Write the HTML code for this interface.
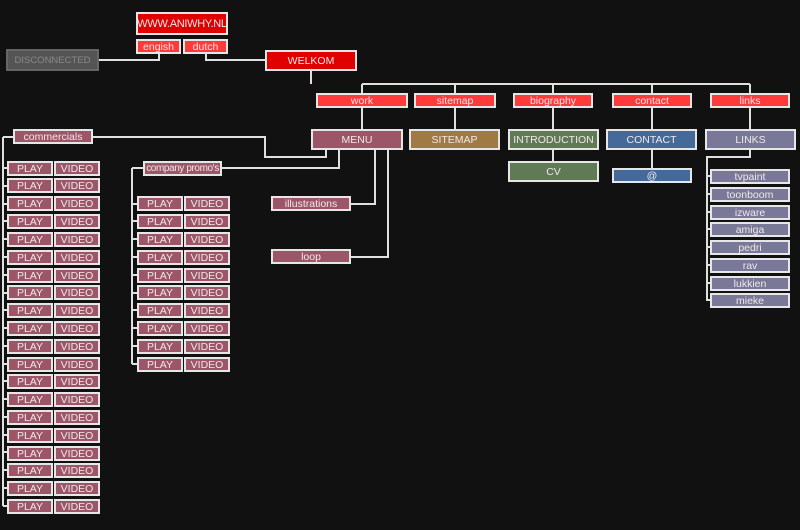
<!DOCTYPE html><html><head><meta charset="utf-8"><style>
body{margin:0;width:800px;height:530px;background:#111;overflow:hidden;position:relative;font-family:"Liberation Sans","DejaVu Sans",sans-serif}
.b{position:absolute;box-sizing:border-box;border:2px solid #e6e6e6;color:#f0e8ea;font-size:10.5px;text-align:center;display:flex;align-items:center;justify-content:center;white-space:nowrap;letter-spacing:0;overflow:hidden}
.r{background:#ff3a3a}.rd{background:#e00000}.m{background:#9c5668}.g{background:#555;border-color:#666;color:#888}
.p{width:46px;height:15px}
.l{background:#7a7898;width:80px;height:15px;left:710px}
svg{position:absolute;left:0;top:0}
</style></head><body>
<svg width="800" height="530" fill="none" stroke="#e0e0e0" stroke-width="2">
<path d="M159 54V60H99M206 54V60H265M311 71V84M362 84H750M362 84V93M455 84V93M553 84V93M652 84V93M750 84V93M362 108V129M455 108V129M553 108V129M553 150V161M652 108V129M652 150V168M750 108V129M750 150V157H707V300H711"/>
<path d="M93 137H265V157H326V150M339 150V168H222M375 150V204H351M388 150V257H351M3 137H13M3 137V506M132 168H143M132 168V364"/>
<path d="M3 168H7M3 186H7M3 204H7M3 221H7M3 239H7M3 257H7M3 275H7M3 293H7M3 310H7M3 328H7M3 346H7M3 364H7M3 381H7M3 399H7M3 417H7M3 435H7M3 452H7M3 470H7M3 488H7M3 506H7"/>
<path d="M132 204H137M132 221H137M132 239H137M132 257H137M132 275H137M132 293H137M132 310H137M132 328H137M132 346H137M132 364H137"/>
<path d="M707 176H711M707 194H711M707 212H711M707 229H711M707 247H711M707 265H711M707 283H711"/>
</svg>
<div class="b rd" style="left:136px;top:12px;width:92px;height:23px;font-size:11px;letter-spacing:-0.3px">WWW.ANIWHY.NL</div>
<div class="b r" style="left:136px;top:39px;width:45px;height:15px">engish</div>
<div class="b r" style="left:183px;top:39px;width:45px;height:15px">dutch</div>
<div class="b g" style="left:6px;top:49px;width:93px;height:22px;font-size:9.5px">DISCONNECTED</div>
<div class="b rd" style="left:265px;top:50px;width:92px;height:21px">WELKOM</div>
<div class="b r" style="left:316px;top:93px;width:92px;height:15px">work</div>
<div class="b r" style="left:414px;top:93px;width:82px;height:15px">sitemap</div>
<div class="b r" style="left:513px;top:93px;width:80px;height:15px">biography</div>
<div class="b r" style="left:612px;top:93px;width:80px;height:15px">contact</div>
<div class="b r" style="left:710px;top:93px;width:80px;height:15px">links</div>
<div class="b m" style="left:311px;top:129px;width:92px;height:21px">MENU</div>
<div class="b" style="left:409px;top:129px;width:91px;height:21px;background:#a07a45">SITEMAP</div>
<div class="b" style="left:508px;top:129px;width:91px;height:21px;background:#607a55">INTRODUCTION</div>
<div class="b" style="left:606px;top:129px;width:91px;height:21px;background:#456a9a">CONTACT</div>
<div class="b" style="left:705px;top:129px;width:91px;height:21px;background:#7a7898">LINKS</div>
<div class="b" style="left:508px;top:161px;width:91px;height:21px;background:#607a55">CV</div>
<div class="b" style="left:612px;top:168px;width:80px;height:15px;background:#456a9a">@</div>
<div class="b m" style="left:13px;top:129px;width:80px;height:15px">commercials</div>
<div class="b m" style="left:143px;top:161px;width:79px;height:15px;letter-spacing:-0.4px;font-size:10px">company promo's</div>
<div class="b m" style="left:271px;top:196px;width:80px;height:15px">illustrations</div>
<div class="b m" style="left:271px;top:249px;width:80px;height:15px">loop</div>
<div class="b l" style="top:169px">tvpaint</div><div class="b l" style="top:187px">toonboom</div><div class="b l" style="top:205px">izware</div><div class="b l" style="top:222px">amiga</div><div class="b l" style="top:240px">pedri</div><div class="b l" style="top:258px">rav</div><div class="b l" style="top:276px">lukkien</div><div class="b l" style="top:293px">mieke</div>
<div class="b m p" style="left:7px;top:161px">PLAY</div><div class="b m p" style="left:54px;top:161px">VIDEO</div>
<div class="b m p" style="left:7px;top:178px">PLAY</div><div class="b m p" style="left:54px;top:178px">VIDEO</div>
<div class="b m p" style="left:7px;top:196px">PLAY</div><div class="b m p" style="left:54px;top:196px">VIDEO</div>
<div class="b m p" style="left:7px;top:214px">PLAY</div><div class="b m p" style="left:54px;top:214px">VIDEO</div>
<div class="b m p" style="left:7px;top:232px">PLAY</div><div class="b m p" style="left:54px;top:232px">VIDEO</div>
<div class="b m p" style="left:7px;top:250px">PLAY</div><div class="b m p" style="left:54px;top:250px">VIDEO</div>
<div class="b m p" style="left:7px;top:268px">PLAY</div><div class="b m p" style="left:54px;top:268px">VIDEO</div>
<div class="b m p" style="left:7px;top:285px">PLAY</div><div class="b m p" style="left:54px;top:285px">VIDEO</div>
<div class="b m p" style="left:7px;top:303px">PLAY</div><div class="b m p" style="left:54px;top:303px">VIDEO</div>
<div class="b m p" style="left:7px;top:321px">PLAY</div><div class="b m p" style="left:54px;top:321px">VIDEO</div>
<div class="b m p" style="left:7px;top:339px">PLAY</div><div class="b m p" style="left:54px;top:339px">VIDEO</div>
<div class="b m p" style="left:7px;top:357px">PLAY</div><div class="b m p" style="left:54px;top:357px">VIDEO</div>
<div class="b m p" style="left:7px;top:374px">PLAY</div><div class="b m p" style="left:54px;top:374px">VIDEO</div>
<div class="b m p" style="left:7px;top:392px">PLAY</div><div class="b m p" style="left:54px;top:392px">VIDEO</div>
<div class="b m p" style="left:7px;top:410px">PLAY</div><div class="b m p" style="left:54px;top:410px">VIDEO</div>
<div class="b m p" style="left:7px;top:428px">PLAY</div><div class="b m p" style="left:54px;top:428px">VIDEO</div>
<div class="b m p" style="left:7px;top:446px">PLAY</div><div class="b m p" style="left:54px;top:446px">VIDEO</div>
<div class="b m p" style="left:7px;top:463px">PLAY</div><div class="b m p" style="left:54px;top:463px">VIDEO</div>
<div class="b m p" style="left:7px;top:481px">PLAY</div><div class="b m p" style="left:54px;top:481px">VIDEO</div>
<div class="b m p" style="left:7px;top:499px">PLAY</div><div class="b m p" style="left:54px;top:499px">VIDEO</div>
<div class="b m p" style="left:137px;top:196px">PLAY</div><div class="b m p" style="left:184px;top:196px">VIDEO</div>
<div class="b m p" style="left:137px;top:214px">PLAY</div><div class="b m p" style="left:184px;top:214px">VIDEO</div>
<div class="b m p" style="left:137px;top:232px">PLAY</div><div class="b m p" style="left:184px;top:232px">VIDEO</div>
<div class="b m p" style="left:137px;top:250px">PLAY</div><div class="b m p" style="left:184px;top:250px">VIDEO</div>
<div class="b m p" style="left:137px;top:268px">PLAY</div><div class="b m p" style="left:184px;top:268px">VIDEO</div>
<div class="b m p" style="left:137px;top:285px">PLAY</div><div class="b m p" style="left:184px;top:285px">VIDEO</div>
<div class="b m p" style="left:137px;top:303px">PLAY</div><div class="b m p" style="left:184px;top:303px">VIDEO</div>
<div class="b m p" style="left:137px;top:321px">PLAY</div><div class="b m p" style="left:184px;top:321px">VIDEO</div>
<div class="b m p" style="left:137px;top:339px">PLAY</div><div class="b m p" style="left:184px;top:339px">VIDEO</div>
<div class="b m p" style="left:137px;top:357px">PLAY</div><div class="b m p" style="left:184px;top:357px">VIDEO</div>
</body></html>
